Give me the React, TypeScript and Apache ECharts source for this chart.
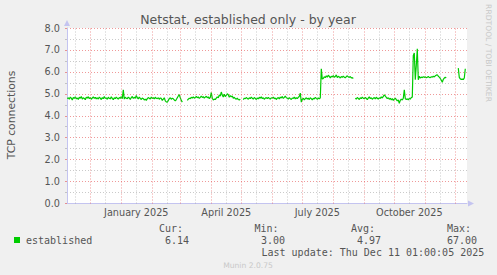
import React, { useEffect, useRef } from "react";
import * as echarts from "echarts";

const DAY = 86400000;
const axisStart = Date.UTC(2024, 10, 7, 17);
const axisEnd = axisStart + 400 * DAY;
const firstSample = Date.UTC(2024, 10, 8);

// daily averages, Nov 8 2024 .. Jul 21 2025
const segmentA: (number | null)[] = [
  4.78, 4.82, 4.75, 4.85, 4.80, 4.72, 4.83, 4.79, 4.86, 4.77,
  4.81, 4.74, 4.84, 4.80, 4.88, 4.76, 4.82, 4.79, 4.73, 4.85,
  4.80, 4.87, 4.78, 4.83, 4.75, 4.81, 4.86, 4.79, 4.84, 4.77,
  4.82, 4.76, 4.85, 4.80, 4.74, 4.83, 4.78, 4.88, 4.79, 4.81,
  4.75, 4.84, 4.80, 4.77, 4.86, 4.79, 4.73, 4.82, 4.78, 4.85,
  4.80, 4.76, 4.83, 4.79, 4.87, 4.78, 5.18, 4.76, 4.84, 4.80,
  4.78, 4.85, 4.81, 4.74, 4.83, 4.88, 4.79, 4.84, 4.80, 4.92,
  4.82, 4.77, 4.85, 4.79, 4.74, 4.81, 4.78, 4.72, 4.76, 4.70,
  4.78, 4.83, 4.80, 4.76, 4.85, 4.79, 4.82, 4.77, 4.84, 4.80,
  4.78, 4.82, 4.75, 4.81, 4.79, 4.70, 4.76, 4.82, 4.68, 4.63,
  4.62, 4.70, 4.78, 4.82, 4.75, 4.80, 4.77, 4.72, 4.68, 4.74,
  4.82, 4.90, 4.96, 4.82, 4.70, 4.62, null, null, null, null,
  4.70, 4.76, 4.80, 4.78, 4.84, 4.81, 4.86, 4.80, 4.83, 4.88,
  4.82, 4.86, 4.79, 4.84, 4.90, 4.83, 4.87, 4.80, 4.85, 4.89,
  4.82, 4.86, 4.78, 4.84, 5.06, 4.80, 4.72, 4.76, 4.74, 4.80,
  4.86, 4.82, 4.95, 4.90, 5.08, 4.94, 4.85, 4.98, 4.88, 4.92,
  5.00, 4.96, 4.84, 4.92, 4.86, 4.90, 4.80, 4.84, 4.78, 4.76,
  4.80, 4.74, 4.72, 4.76, null, null, 4.74, 4.80, 4.78, 4.83,
  4.79, 4.75, 4.82, 4.78, 4.85, 4.80, 4.76, 4.83, 4.79, 4.74,
  4.81, 4.77, 4.84, 4.80, 4.86, 4.78, 4.82, 4.75, 4.80, 4.83,
  4.78, 4.84, 4.79, 4.76, 4.82, 4.80, 4.85, 4.78, 4.81, 4.74,
  4.80, 4.83, 4.77, 4.85, 4.81, 4.88, 4.79, 4.84, 4.90, 4.82,
  4.80, 4.76, 4.83, 4.78, 4.74, 4.81, 4.79, 4.85, 4.77, 4.82,
  4.78, 4.84, 4.88, 5.03, 4.62, 4.75, 4.80, 4.72, 4.78, 4.82,
  4.76, 4.80, 4.74, 4.82, 4.78, 4.72, 4.80, 4.76, 4.84, 4.79,
  4.75, 4.81, 4.77, 4.82, 6.14, 5.67, 5.70, 5.78, 5.74, 5.82,
  5.76, 5.85, 5.79, 5.73, 5.80, 5.77, 5.83, 5.75, 5.79, 5.86,
  5.74, 5.80, 5.77, 5.72, 5.79, 5.75, 5.81, 5.76, 5.73, 5.78,
  5.82, 5.77, 5.75, 5.79, 5.72, 5.74, 5.70,
];
const gapAB: (number | null)[] = [null];
const segmentB: (number | null)[] = [
  4.80, 4.76, 4.83, 4.79, 4.74, 4.82, 4.78, 4.85, 4.80, 4.77,
  4.84, 4.79, 4.73, 4.81, 4.86, 4.78, 4.82, 4.75, 4.80, 4.83,
  4.77, 4.84, 4.80, 4.76, 4.82, 4.79, 4.86, 4.81, 4.88, 4.95,
  4.90, 4.84, 4.78, 4.82, 4.75, 4.80, 4.72, 4.78, 4.70, 4.76,
  4.80, 4.74, 4.68, 4.72, 4.57, 4.70, 4.76, 4.72, 4.80, 5.18,
  4.78, 4.74, 4.77, 4.72, 4.80, 4.76, 4.83, 4.85, 6.75, 6.86,
  5.64, 6.30, 7.05, 5.64, 5.80, 5.72, 5.76, 5.74, 5.78, 5.75,
  5.77, 5.73, 5.76, 5.79, 5.75, 5.74, 5.78, 5.76, 5.80, 5.77,
  5.82, 5.85, 5.87, 5.80, 5.76, 5.70, 5.62, 5.53, 5.66, 5.72,
  5.75, 5.73,
];
const gapBC: (number | null)[] = [null, null, null, null, null, null, null, null, null, null, null];
const segmentC: (number | null)[] = [6.17, 5.75, 5.68, 5.66, 5.67, 5.65, 5.72, 6.14];

const labelDates = ["2025-01-16", "2025-04-16", "2025-07-16", "2025-10-16"];
const labelTexts = ["January 2025", "April 2025", "July 2025", "October 2025"];
const monthStarts = [
  "2024-12-01", "2025-01-01", "2025-02-01", "2025-03-01", "2025-04-01", "2025-05-01", "2025-06-01",
  "2025-07-01", "2025-08-01", "2025-09-01", "2025-10-01", "2025-11-01", "2025-12-01",
];
const midMonths = [
  "2024-11-16", "2024-12-16", "2025-01-16", "2025-02-16", "2025-03-16", "2025-04-16", "2025-05-16",
  "2025-06-16", "2025-07-16", "2025-08-16", "2025-09-16", "2025-10-16", "2025-11-16",
];
const legendHeads = ["Cur:", "Min:", "Avg:", "Max:"];
const legendValues = ["6.14", "3.00", "4.97", "67.00"];

const ts = (s: string) => Date.parse(s + "T00:00:00Z");

export default function App() {
  const ref = useRef<HTMLDivElement>(null);
  useEffect(() => {
    if (!ref.current) return;
    const chart = echarts.init(ref.current, undefined, { renderer: "svg" });
    const values = [...segmentA, ...gapAB, ...segmentB, ...gapBC, ...segmentC];
    const data = values.map((v, i) => [firstSample + i * DAY, v]);
    const labelTs = labelDates.map(ts);
    const red = "rgba(225,70,70,0.55)";
    const gray = "rgba(150,150,150,0.5)";
    const axisCol = "#c4c4f0";
    const font = "DejaVu Sans";
    const mono = "DejaVu Sans Mono";
    const txt = "#555";

    const gridLines = [
      ...midMonths.map((d) => ({ xAxis: ts(d), lineStyle: { color: gray, type: [1, 2], width: 1 } })),
      ...monthStarts.map((d) => ({ xAxis: ts(d), lineStyle: { color: red, type: [1, 2], width: 1 } })),
    ];

    const graphics: any[] = [
      {
        type: "text", x: 248, y: 19.5,
        style: { text: "Netstat, established only - by year", font: `12.5px ${font}`, fill: "#555", textAlign: "center", textVerticalAlign: "middle" },
      },
      {
        type: "text", x: 11, y: 115, rotation: Math.PI / 2,
        style: { text: "TCP connections", font: `10.8px ${font}`, fill: "#555", textAlign: "center", textVerticalAlign: "middle" },
      },
      {
        type: "text", x: 488, y: 53, rotation: -Math.PI / 2,
        style: { text: "RRDTOOL / TOBI OETIKER", font: `7.6px ${font}`, fill: "#c8c8c8", textAlign: "center", textVerticalAlign: "middle" },
      },
      { type: "rect", shape: { x: 14, y: 237, width: 6, height: 6 }, style: { fill: "#00cc00" } },
      {
        type: "text", x: 26, y: 240,
        style: { text: "established", font: `10px ${mono}`, fill: txt, textVerticalAlign: "middle" },
      },
      {
        type: "text", x: 261.5, y: 252,
        style: { text: "Last update: Thu Dec 11 01:00:05 2025", font: `10px ${mono}`, fill: txt, textVerticalAlign: "middle" },
      },
      {
        type: "text", x: 248, y: 265,
        style: { text: "Munin 2.0.75", font: `7.6px ${font}`, fill: "#c8c8c8", textAlign: "center", textVerticalAlign: "middle" },
      },
    ];
    const headX = [159, 254.5, 351, 447];
    const valX = [165, 261, 357, 447];
    legendHeads.forEach((h, i) => {
      graphics.push({ type: "text", x: headX[i], y: 228, style: { text: h, font: `10px ${mono}`, fill: txt, textVerticalAlign: "middle" } });
      graphics.push({ type: "text", x: valX[i], y: 240, style: { text: legendValues[i], font: `10px ${mono}`, fill: txt, textVerticalAlign: "middle" } });
    });

    chart.setOption({
      animation: false,
      backgroundColor: "#f0f0f0",
      grid: { left: 67, top: 28, width: 400, height: 175.5, show: true, backgroundColor: "#ffffff", borderWidth: 0, containLabel: false },
      xAxis: {
        type: "value",
        min: axisStart,
        max: axisEnd,
        splitLine: { show: false },
        axisTick: { show: false },
        axisLine: { show: true, lineStyle: { color: axisCol, width: 1 }, symbol: ["none", "triangle"], symbolSize: [6, 6], symbolOffset: [0, 4] },
        axisLabel: {
          customValues: labelTs,
          formatter: (v: number) => {
            const i = labelTs.indexOf(v);
            return i >= 0 ? labelTexts[i] : "";
          },
          color: txt, fontFamily: font, fontSize: 9.7, margin: 4,
        },
      },
      yAxis: {
        type: "value",
        min: 0,
        max: 8,
        interval: 1,
        axisLine: { show: true, lineStyle: { color: axisCol, width: 1 }, symbol: ["none", "triangle"], symbolSize: [6, 6], symbolOffset: [0, 5] },
        axisTick: { show: true, length: 2, lineStyle: { color: red } },
        minorTick: { show: true, splitNumber: 2, length: 2, lineStyle: { color: gray } },
        splitLine: { show: true, lineStyle: { color: red, type: [1, 2], width: 1 } },
        minorSplitLine: { show: true, lineStyle: { color: gray, type: [1, 2], width: 1 } },
        axisLabel: { formatter: (v: number) => v.toFixed(1), color: txt, fontFamily: font, fontSize: 9.7, margin: 7 },
      },
      graphic: graphics,
      series: [
        {
          type: "line",
          data: [],
          z: 1,
          silent: true,
          markLine: { silent: true, symbol: ["none", "none"], label: { show: false }, emphasis: { disabled: true }, data: gridLines },
        },
        {
          type: "line",
          name: "established",
          data,
          z: 3,
          showSymbol: false,
          symbol: "none",
          connectNulls: false,
          lineStyle: { color: "#00cc00", width: 1.2 },
          itemStyle: { color: "#00cc00" },
          silent: true,
        },
      ],
    });
    return () => chart.dispose();
  }, []);
  return <div ref={ref} style={{ position: "fixed", left: 0, top: 0, width: 497, height: 275 }} />;
}
